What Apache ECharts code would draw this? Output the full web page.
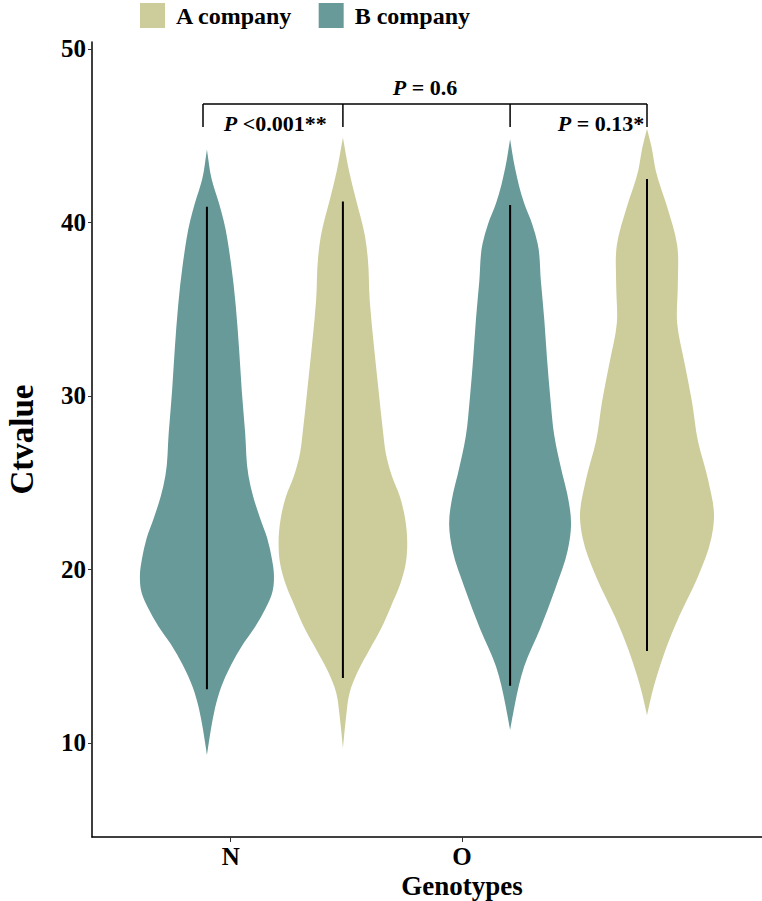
<!DOCTYPE html>
<html><head><meta charset="utf-8">
<script src="https://cdn.jsdelivr.net/npm/echarts@6/dist/echarts.min.js"></script>
<style>html,body{margin:0;padding:0;background:#fff}#c{width:762px;height:901px}</style>
</head><body><div id="c"></div>
<script>
// ---------------- DATA ----------------
const categories = ['N', 'O'];
const companies = ['A company', 'B company'];
const yTicks = [10, 20, 30, 40, 50];

// Violin outlines: Ctvalue levels and relative density (half width, 1 = widest)
const nA_levels  = [44.9, 43.0, 41.4, 39.2, 38.0, 35.5, 33.0, 30.4, 27.9, 26.7, 25.4, 24.2, 22.9, 21.5, 20.4, 19.1, 17.9, 16.6, 15.4, 14.1, 12.9, 11.6, 9.7];
const nA_density = [0, 0.09, 0.19, 0.33, 0.37, 0.40, 0.46, 0.53, 0.60, 0.64, 0.73, 0.85, 0.93, 0.96, 0.94, 0.85, 0.72, 0.57, 0.40, 0.22, 0.10, 0.05, 0];
const nB_levels  = [44.2, 42.5, 41.1, 40.1, 37.6, 35.2, 32.7, 30.3, 27.9, 25.4, 24.2, 23.0, 21.8, 20.6, 19.7, 18.6, 17.8, 16.7, 15.7, 14.5, 13.2, 12.0, 10.8, 9.3];
const nB_density = [0, 0.07, 0.18, 0.25, 0.36, 0.43, 0.48, 0.52, 0.57, 0.62, 0.69, 0.79, 0.90, 0.97, 1.0, 0.97, 0.88, 0.72, 0.54, 0.36, 0.21, 0.12, 0.06, 0];
const oA_levels  = [45.4, 44.3, 43.0, 40.9, 38.7, 36.4, 34.2, 31.9, 29.7, 27.4, 25.2, 23.0, 21.8, 19.5, 17.3, 15.3, 13.9, 12.8, 11.6];
const oA_density = [0, 0.07, 0.13, 0.30, 0.45, 0.46, 0.45, 0.56, 0.67, 0.76, 0.91, 1.0, 0.96, 0.75, 0.48, 0.27, 0.15, 0.07, 0];
const oB_levels  = [44.8, 43.2, 41.1, 39.9, 38.8, 36.6, 34.4, 32.2, 29.9, 27.7, 25.5, 24.4, 22.6, 21.1, 18.85, 16.6, 14.4, 13.3, 12.2, 10.75];
const oB_density = [0, 0.07, 0.21, 0.33, 0.41, 0.46, 0.51, 0.55, 0.60, 0.66, 0.78, 0.85, 0.91, 0.86, 0.67, 0.45, 0.21, 0.13, 0.07, 0];

// min / max lines per genotype (N, O)
const aMin = [13.75, 15.3];
const aMax = [41.2, 42.5];
const bMin = [13.1, 13.3];
const bMax = [40.9, 41.0];

// significance annotations
const pTop   = '{i|P} = 0.6';
const pLeft  = '{i|P} <0.001**';
const pRight = '{i|P} = 0.13*';

// ---------------- LAYOUT ----------------
const COLORS = { 'A company': '#CCCD9B', 'B company': '#679A99' };
const VIOLIN_X = { 'A company': [1.485, 2.80], 'B company': [0.897, 2.208] };
const HALF_MAX = 67 / 231.25;   // axis units for density 1
const BRACKET_X = [0.88, 1.485, 2.208, 2.80];
const BRACKET_Y = 46.83, BRACKET_DROP = 45.5;
const FONT = 'Liberation Serif, Times New Roman, serif';

const violins = {
  'A company': [
    { lev: nA_levels, den: nA_density, lo: aMin[0], hi: aMax[0] },
    { lev: oA_levels, den: oA_density, lo: aMin[1], hi: aMax[1] }
  ],
  'B company': [
    { lev: nB_levels, den: nB_density, lo: bMin[0], hi: bMax[0] },
    { lev: oB_levels, den: oB_density, lo: bMin[1], hi: bMax[1] }
  ]
};

// Smooth outline (cubic Hermite in x as a function of pixel y), drawn as bezier commands
function hermiteCmds(p) {
  const n = p.length;
  const m = [];
  for (let i = 0; i < n; i++) {
    if (i === 0) m.push((p[1][0] - p[0][0]) / (p[1][1] - p[0][1]));
    else if (i === n - 1) m.push((p[n - 1][0] - p[n - 2][0]) / (p[n - 1][1] - p[n - 2][1]));
    else {
      const h0 = p[i][1] - p[i - 1][1], h1 = p[i + 1][1] - p[i][1];
      const d0 = (p[i][0] - p[i - 1][0]) / h0, d1 = (p[i + 1][0] - p[i][0]) / h1;
      m.push((d0 * h1 + d1 * h0) / (h0 + h1));
    }
  }
  let s = '';
  for (let i = 0; i < n - 1; i++) {
    const h = p[i + 1][1] - p[i][1];
    const c1 = [p[i][0] + m[i] * h / 3, p[i][1] + h / 3];
    const c2 = [p[i + 1][0] - m[i + 1] * h / 3, p[i + 1][1] - h / 3];
    s += ' C' + c1[0].toFixed(2) + ' ' + c1[1].toFixed(2) + ' ' + c2[0].toFixed(2) + ' ' + c2[1].toFixed(2) + ' ' + p[i + 1][0].toFixed(2) + ' ' + p[i + 1][1].toFixed(2);
  }
  return s;
}

function violinSeries(name) {
  return {
    name: name,
    type: 'custom',
    itemStyle: { color: COLORS[name] },
    data: categories.map((c, i) => [i, 30]),
    encode: { x: 0, y: 1 },
    renderItem: function (params, api) {
      const g = api.value(0);
      const v = violins[name][g];
      const xc = VIOLIN_X[name][g];
      const right = [], left = [];
      for (let i = 0; i < v.lev.length; i++) {
        right.push(api.coord([xc + v.den[i] * HALF_MAX, v.lev[i]]));
      }
      for (let i = v.lev.length - 1; i >= 0; i--) {
        left.push(api.coord([xc - v.den[i] * HALF_MAX, v.lev[i]]));
      }
      const d = 'M' + right[0][0].toFixed(2) + ' ' + right[0][1].toFixed(2) + hermiteCmds(right) + hermiteCmds(left) + ' Z';
      const top = api.coord([xc, v.hi]);
      const bot = api.coord([xc, v.lo]);
      return {
        type: 'group',
        children: [
          { type: 'path', shape: { pathData: d }, style: { fill: COLORS[name] } },
          { type: 'line', shape: { x1: top[0], y1: top[1], x2: bot[0], y2: bot[1] }, style: { stroke: '#000', lineWidth: 2 } }
        ]
      };
    }
  };
}

const richP = { i: { fontStyle: 'italic', fontWeight: 'bold', fontFamily: FONT, fontSize: 22, fill: '#000' } };

const annotSeries = {
  name: 'annot',
  type: 'custom',
  silent: true,
  data: [[1, 30]],
  encode: { x: 0, y: 1 },
  renderItem: function (params, api) {
    const children = [];
    const l = api.coord([BRACKET_X[0], BRACKET_Y]);
    const r = api.coord([BRACKET_X[3], BRACKET_Y]);
    children.push({ type: 'line', shape: { x1: l[0], y1: l[1], x2: r[0], y2: r[1] }, style: { stroke: '#000', lineWidth: 1.5 } });
    BRACKET_X.forEach(function (bx) {
      const a = api.coord([bx, BRACKET_Y]);
      const b = api.coord([bx, BRACKET_DROP]);
      children.push({ type: 'line', shape: { x1: a[0], y1: a[1], x2: b[0], y2: b[1] }, style: { stroke: '#000', lineWidth: 1.5 } });
    });
    const t1 = api.coord([(BRACKET_X[0] + BRACKET_X[3]) / 2, 47.8]);
    const t2 = api.coord([(BRACKET_X[0] + BRACKET_X[1]) / 2 + 0.01, 45.7]);
    const t3 = api.coord([BRACKET_X[3] - 0.012, 45.7]);
    const base = { fontFamily: FONT, fontWeight: 'bold', fontSize: 22, fill: '#000', verticalAlign: 'middle', rich: richP };
    children.push({ type: 'text', x: t1[0], y: t1[1], style: Object.assign({}, base, { text: pTop, align: 'center' }) });
    children.push({ type: 'text', x: t2[0], y: t2[1], style: Object.assign({}, base, { text: pLeft, align: 'center' }) });
    children.push({ type: 'text', x: t3[0], y: t3[1], style: Object.assign({}, base, { text: pRight, align: 'right' }) });
    return { type: 'group', children: children };
  }
};

const chart = echarts.init(document.getElementById('c'), null, { renderer: 'svg', width: 762, height: 901 });
chart.setOption({
  animation: false,
  backgroundColor: '#fff',
  legend: {
    data: companies,
    left: 140, top: 3, padding: 0,
    icon: 'rect', itemWidth: 25, itemHeight: 25, itemGap: 26,
    textStyle: { fontFamily: FONT, fontWeight: 'bold', fontSize: 24, color: '#000', padding: [0, 0, 0, 6] }
  },
  grid: { left: 92, top: 42, width: 740, bottom: 64, outerBoundsMode: 'none', containLabel: false },
  xAxis: {
    type: 'value', min: 0.4, max: 3.6,
    axisLine: { show: true, lineStyle: { color: '#000', width: 1.5 } },
    axisTick: { show: true, length: 5, customValues: [1, 2], lineStyle: { color: '#333' } },
    axisLabel: { customValues: [1, 2], formatter: v => categories[Math.round(v) - 1], fontFamily: FONT, fontWeight: 'bold', fontSize: 25, color: '#000', margin: 7 },
    splitLine: { show: false },
    name: 'Genotypes', nameLocation: 'middle', nameGap: 35, nameMoveOverlap: false,
    nameTextStyle: { fontFamily: FONT, fontWeight: 'bold', fontSize: 27, color: '#000' }
  },
  yAxis: {
    type: 'value', min: 4.58, max: 50.4,
    axisLine: { show: true, lineStyle: { color: '#000', width: 1.5 } },
    axisTick: { show: true, length: 4, customValues: yTicks, lineStyle: { color: '#333' } },
    axisLabel: { customValues: yTicks, fontFamily: FONT, fontWeight: 'bold', fontSize: 25, color: '#000', margin: 6 },
    splitLine: { show: false },
    name: 'Ctvalue', nameLocation: 'middle', nameGap: 54, nameRotate: 90, nameMoveOverlap: false,
    nameTextStyle: { fontFamily: FONT, fontWeight: 'bold', fontSize: 33, color: '#000' }
  },
  series: [violinSeries('B company'), violinSeries('A company'), annotSeries]
});
</script>
</body></html>
